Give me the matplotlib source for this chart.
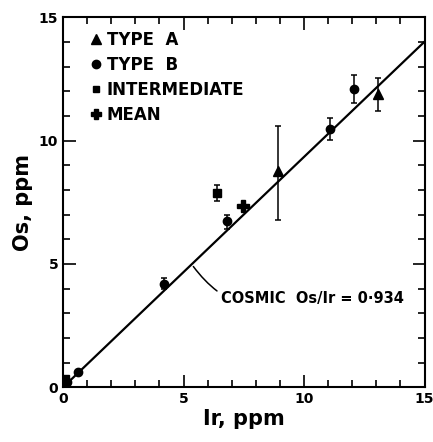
import numpy as np
import matplotlib.pyplot as plt

plt.rcParams['font.family'] = ['DejaVu Sans']
plt.rcParams['font.weight'] = 'bold'

# type A (triangles)
a_ir = [8.93, 13.06]
a_os = [8.75, 11.87]
a_lo = [6.77, 11.19]
a_hi = [10.58, 12.52]

# type B (circles)
b_ir = [0.15, 0.62, 4.21, 6.80, 11.06, 12.09]
b_os = [0.20, 0.64, 4.19, 6.73, 10.45, 12.10]
b_lo = [0.20, 0.64, 3.98, 6.41, 10.01, 11.53]
b_hi = [0.20, 0.64, 4.45, 7.00, 10.92, 12.67]

# intermediate (squares)
i_ir = [0.08, 6.40]
i_os = [0.35, 7.88]
i_lo = [0.35, 7.56]
i_hi = [0.35, 8.21]

# mean
m_ir = [7.48]
m_os = [7.36]

ratio = 0.934
line_x = [0, 15]


def yerr(y, lo, hi):
    y = np.array(y)
    return [y - np.array(lo), np.array(hi) - y]


fig = plt.figure(figsize=(4.33, 4.42), dpi=100)
ax = fig.add_axes([0.1455, 0.1237, 0.835, 0.8373])

ax.plot(line_x, np.array(line_x) * ratio, color="black", lw=1.6, zorder=2)

ekw = dict(ecolor="black", elinewidth=1.1, capsize=2.5, capthick=1.1,
           linestyle="none", color="black", zorder=3)
ax.errorbar(a_ir, a_os, yerr=yerr(a_os, a_lo, a_hi), marker="^", ms=7, **ekw)
ax.errorbar(b_ir, b_os, yerr=yerr(b_os, b_lo, b_hi), marker="o", ms=6, **ekw)
ax.errorbar(i_ir, i_os, yerr=yerr(i_os, i_lo, i_hi), marker="s", ms=6, **ekw)
ax.plot(m_ir, m_os, marker="P", ms=8, color="black", linestyle="none", zorder=3)

# legend
handles = [
    plt.Line2D([], [], marker="^", color="black", ls="none", ms=7),
    plt.Line2D([], [], marker="o", color="black", ls="none", ms=6),
    plt.Line2D([], [], marker="s", color="black", ls="none", ms=5),
    plt.Line2D([], [], marker="P", color="black", ls="none", ms=7),
]
ax.legend(handles, ["TYPE  A", "TYPE  B", "INTERMEDIATE", "MEAN"],
          loc="upper left", bbox_to_anchor=(0.045, 0.995), frameon=False,
          handlelength=0.6, handletextpad=0.35, labelspacing=0.42,
          borderaxespad=0.3, prop=dict(size=12, weight="bold"))

ax.annotate("COSMIC  Os/Ir = 0·934", xy=(5.34, 5.34 * ratio),
            xytext=(6.55, 3.62), fontsize=10.5, fontweight="bold",
            va="center", ha="left",
            arrowprops=dict(arrowstyle="-", color="black", lw=1.1,
                            connectionstyle="arc3,rad=-0.4",
                            shrinkA=1, shrinkB=2))

ax.set_xlim(0, 15)
ax.set_ylim(0, 15)
ax.set_xticks([0, 5, 10, 15])
ax.set_yticks([0, 5, 10, 15])
ax.set_xticks(np.arange(0, 16, 1), minor=True)
ax.set_yticks(np.arange(0, 16, 1), minor=True)
ax.tick_params(which="both", direction="in", top=True, right=True,
               labelsize=10, width=1.2)
ax.tick_params(which="major", length=9)
ax.tick_params(which="minor", length=5)
for s in ax.spines.values():
    s.set_linewidth(1.5)

ax.set_xlabel("Ir, ppm", fontsize=15, fontweight="bold", labelpad=2)
ax.set_ylabel("Os, ppm", fontsize=15, fontweight="bold", labelpad=4)

plt.savefig("out.png", dpi=100)
